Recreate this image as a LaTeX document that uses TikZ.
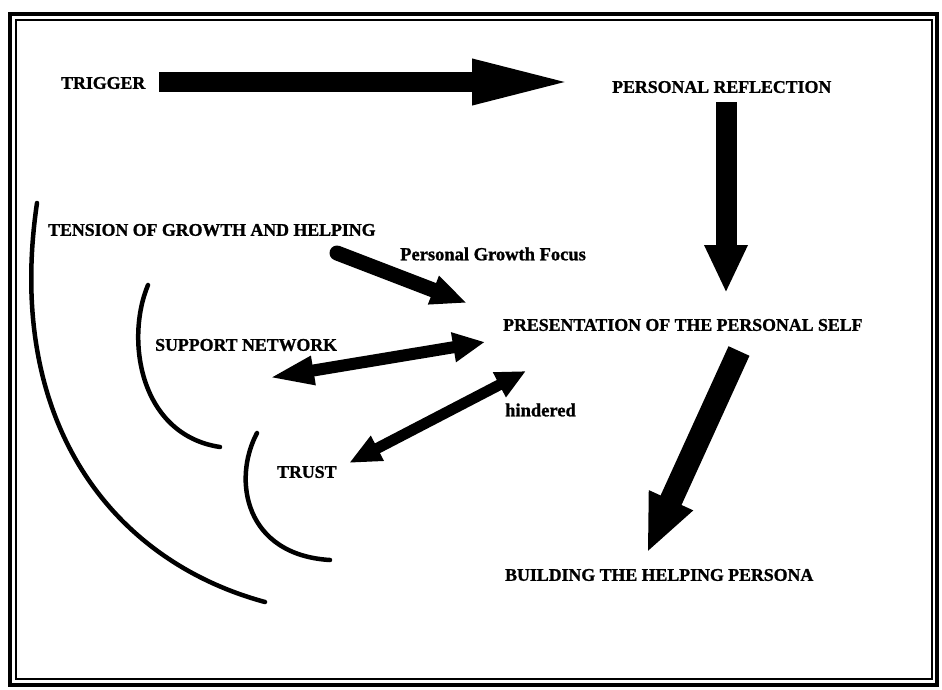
\documentclass[tikz,border=0pt]{standalone}
\usepackage{fontspec}
\setmainfont{Liberation Serif}[BoldFeatures={FakeBold=1.2}]
\usetikzlibrary{arrows.meta}
\begin{document}
\begin{tikzpicture}[x=1pt,y=-1pt,
  lab/.style={anchor=west, inner sep=0pt, font=\fontsize{17.8}{20}\selectfont\bfseries},
  sublab/.style={anchor=west, inner sep=0pt, font=\fontsize{18.5}{21}\selectfont\bfseries},
  arcline/.style={line width=4.5pt, line cap=round},
  frameouter/.style={line width=4.5pt},
  frameinner/.style={line width=1.5pt}]
\useasboundingbox (0,0) rectangle (942,689);
% frame
\draw[frameouter] (10,14) rectangle (937,685);
\draw[frameinner] (16,20) rectangle (932,679);
% labels
\node[lab] (trigger) at (61,83) {TRIGGER};
\node[lab] (reflection) at (612,87) {PERSONAL REFLECTION};
\node[lab] (tension) at (48,230) {TENSION OF GROWTH AND HELPING};
\node[sublab] (focus) at (400,254) {Personal Growth Focus};
\node[lab] (presentation) at (503,325) {PRESENTATION OF THE PERSONAL SELF};
\node[lab] (support) at (155,345) {SUPPORT NETWORK};
\node[sublab] (hindered) at (505,410) {hindered};
\node[lab] (trust) at (277,472) {TRUST};
\node[lab] (building) at (505,575) {BUILDING THE HELPING PERSONA};
% arrow end points
\coordinate (t1) at (159,82);  \coordinate (t2) at (578,82);
\coordinate (r1) at (726,102); \coordinate (r2) at (726,293);
\coordinate (p1) at (739,351); \coordinate (p2) at (647,553);
\coordinate (g1) at (337,253); \coordinate (g2) at (467,303);
\coordinate (s1) at (268,378); \coordinate (s2) at (485,342);
\coordinate (u1) at (349,463); \coordinate (u2) at (526,371);
% arrows
\draw[line width=20pt, -{Triangle[length=106pt,width=40pt]}] (t1) -- (t2);
\draw[line width=21pt, -{Triangle[length=48pt,width=40pt]}] (r1) -- (r2);
\draw[line width=23pt, -{Triangle[length=58pt,width=44pt]}] (p1) -- (p2);
\draw[line width=15pt, line cap=round, -{Triangle[length=36pt,width=28pt]}] (g1) -- (g2);
\draw[line width=12pt, {Triangle[length=46pt,width=26pt]}-{Triangle[length=32pt,width=28pt]}] (s1) -- (s2);
\draw[line width=11pt, {Triangle[length=32pt,width=26pt]}-{Triangle[length=30pt,width=26pt]}] (u1) -- (u2);
% arcs
\draw[arcline] (37,203) .. controls (5,420) and (110,560) .. (265,602);
\draw[arcline] (148,285) .. controls (125,340) and (140,435) .. (220,447);
\draw[arcline] (257,433) .. controls (232,480) and (245,555) .. (330,560);
\end{tikzpicture}
\end{document}
